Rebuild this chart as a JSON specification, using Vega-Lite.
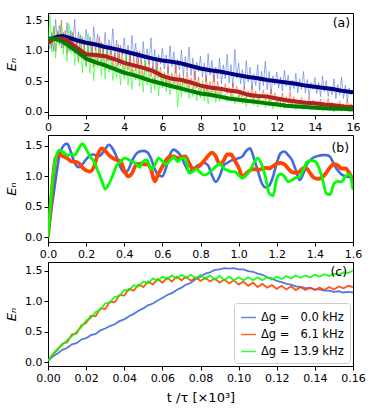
{
"$schema": "https://vega.github.io/schema/vega-lite/v6.json",
"padding": {"left": 5, "top": 12, "right": 5, "bottom": 5},
"config": {
 "font": "DejaVu Sans",
 "view": {"stroke": "black", "strokeWidth": 1},
 "axis": {"grid": false, "domainColor": "black", "tickColor": "black", "tickSize": 4, "labelFontSize": 11, "labelColor": "black", "labelPadding": 2, "labelOverlap": false, "labelFlush": false, "labelBound": false, "titleFontWeight": "normal", "titleColor": "black", "titleFontSize": 13}
},
"datasets": {
 "a_thin": [
  {"t":0.0,"b":1.17,"r":1.1,"g":1.15},{"t":0.1,"b":1.03,"r":1.21,"g":1.58},{"t":0.2,"b":1.3,"r":1.05,"g":0.98},{"t":0.3,"b":0.99,"r":1.4,"g":1.4},
  {"t":0.4,"b":1.51,"r":0.99,"g":0.88},{"t":0.5,"b":1.14,"r":1.32,"g":1.29},{"t":0.6,"b":1.41,"r":1.1,"g":1.09},{"t":0.7,"b":1.04,"r":1.5,"g":1.44},
  {"t":0.8,"b":1.3,"r":1.04,"g":0.94},{"t":0.9,"b":1.1,"r":1.33,"g":1.26},{"t":1.0,"b":1.46,"r":0.95,"g":0.82},{"t":1.1,"b":0.99,"r":1.23,"g":1.44},
  {"t":1.2,"b":1.33,"r":1.07,"g":0.95},{"t":1.3,"b":1.08,"r":1.3,"g":1.26},{"t":1.4,"b":1.51,"r":0.94,"g":0.76},{"t":1.5,"b":0.99,"r":1.15,"g":1.07},
  {"t":1.6,"b":1.31,"r":0.83,"g":0.8},{"t":1.7,"b":0.91,"r":1.26,"g":1.25},{"t":1.8,"b":1.23,"r":0.9,"g":0.64},{"t":1.9,"b":1.07,"r":1.12,"g":1.06},
  {"t":2.0,"b":1.35,"r":0.76,"g":0.73},{"t":2.1,"b":0.97,"r":1.0,"g":1.28},{"t":2.2,"b":1.23,"r":0.82,"g":0.63},{"t":2.3,"b":0.89,"r":1.16,"g":1.03},
  {"t":2.4,"b":1.39,"r":0.73,"g":0.51},{"t":2.5,"b":1.01,"r":1.05,"g":0.92},{"t":2.6,"b":1.27,"r":0.83,"g":0.72},{"t":2.7,"b":0.88,"r":1.23,"g":1.07},
  {"t":2.8,"b":1.14,"r":0.76,"g":0.58},{"t":2.9,"b":0.94,"r":1.06,"g":0.91},{"t":3.0,"b":1.3,"r":0.69,"g":0.54},{"t":3.1,"b":0.84,"r":0.98,"g":1.04},
  {"t":3.2,"b":1.18,"r":0.83,"g":0.65},{"t":3.3,"b":0.93,"r":1.08,"g":0.9},{"t":3.4,"b":1.36,"r":0.73,"g":0.51},{"t":3.5,"b":0.85,"r":0.96,"g":0.77},
  {"t":3.6,"b":1.17,"r":0.65,"g":0.56},{"t":3.7,"b":0.77,"r":1.1,"g":0.92},{"t":3.8,"b":1.09,"r":0.75,"g":0.44},{"t":3.9,"b":0.93,"r":0.97,"g":0.78},
  {"t":4.0,"b":1.21,"r":0.66,"g":0.53},{"t":4.1,"b":0.83,"r":0.84,"g":0.96},{"t":4.2,"b":1.09,"r":0.69,"g":0.44},{"t":4.3,"b":0.75,"r":0.95,"g":0.77},
  {"t":4.4,"b":1.25,"r":0.61,"g":0.37},{"t":4.5,"b":0.86,"r":0.86,"g":0.69},{"t":4.6,"b":1.12,"r":0.67,"g":0.52},{"t":4.7,"b":0.73,"r":0.99,"g":0.8},
  {"t":4.8,"b":0.99,"r":0.61,"g":0.42},{"t":4.9,"b":0.79,"r":0.84,"g":0.67},{"t":5.0,"b":1.15,"r":0.54,"g":0.33},{"t":5.1,"b":0.68,"r":0.77,"g":0.83},
  {"t":5.2,"b":1.03,"r":0.65,"g":0.44},{"t":5.3,"b":0.78,"r":0.85,"g":0.7},{"t":5.4,"b":1.21,"r":0.57,"g":0.31},{"t":5.5,"b":0.69,"r":0.75,"g":0.57},
  {"t":5.6,"b":1.02,"r":0.5,"g":0.36},{"t":5.7,"b":0.62,"r":0.85,"g":0.72},{"t":5.8,"b":0.94,"r":0.56,"g":0.26},{"t":5.9,"b":0.78,"r":0.73,"g":0.6},
  {"t":6.0,"b":1.04,"r":0.45,"g":0.39},{"t":6.1,"b":0.7,"r":0.63,"g":0.66},{"t":6.2,"b":0.93,"r":0.47,"g":0.33},{"t":6.3,"b":0.63,"r":0.74,"g":0.54},
  {"t":6.4,"b":1.08,"r":0.39,"g":0.28},{"t":6.5,"b":0.74,"r":0.64,"g":0.48},{"t":6.6,"b":0.98,"r":0.46,"g":0.37},{"t":6.7,"b":0.63,"r":0.77,"g":0.54},
  {"t":6.8,"b":0.86,"r":0.4,"g":0.08},{"t":6.9,"b":0.68,"r":0.63,"g":0.46},{"t":7.0,"b":1.01,"r":0.34,"g":0.24},{"t":7.1,"b":0.58,"r":0.57,"g":0.55},
  {"t":7.2,"b":0.9,"r":0.45,"g":0.31},{"t":7.3,"b":0.67,"r":0.66,"g":0.47},{"t":7.4,"b":1.06,"r":0.38,"g":0.22},{"t":7.5,"b":0.59,"r":0.56,"g":0.38},
  {"t":7.6,"b":0.88,"r":0.31,"g":0.25},{"t":7.7,"b":0.52,"r":0.67,"g":0.48},{"t":7.8,"b":0.81,"r":0.39,"g":0.18},{"t":7.9,"b":0.66,"r":0.57,"g":0.39},
  {"t":8.0,"b":0.91,"r":0.29,"g":0.23},{"t":8.1,"b":0.57,"r":0.47,"g":0.51},{"t":8.2,"b":0.8,"r":0.32,"g":0.18},{"t":8.3,"b":0.49,"r":0.59,"g":0.39},
  {"t":8.4,"b":0.95,"r":0.25,"g":0.13},{"t":8.5,"b":0.6,"r":0.5,"g":0.34},{"t":8.6,"b":0.84,"r":0.32,"g":0.23},{"t":8.7,"b":0.49,"r":0.63,"g":0.41},
  {"t":8.8,"b":0.73,"r":0.26,"g":0.16},{"t":8.9,"b":0.54,"r":0.5,"g":0.33},{"t":9.0,"b":0.88,"r":0.27,"g":0.17},{"t":9.1,"b":0.46,"r":0.42,"g":0.35},
  {"t":9.2,"b":0.77,"r":0.34,"g":0.21},{"t":9.3,"b":0.54,"r":0.46,"g":0.29},{"t":9.4,"b":0.94,"r":0.29,"g":0.16},{"t":9.5,"b":0.47,"r":0.4,"g":0.24},
  {"t":9.6,"b":0.77,"r":0.25,"g":0.17},{"t":9.7,"b":0.4,"r":0.47,"g":0.3},{"t":9.8,"b":1.02,"r":0.3,"g":0.13},{"t":9.9,"b":0.55,"r":0.42,"g":0.25},
  {"t":10.0,"b":0.8,"r":0.24,"g":0.16},{"t":10.1,"b":0.46,"r":0.35,"g":0.32},{"t":10.2,"b":0.69,"r":0.25,"g":0.13},{"t":10.3,"b":0.38,"r":0.41,"g":0.24},
  {"t":10.4,"b":0.84,"r":0.19,"g":0.09},{"t":10.5,"b":0.49,"r":0.34,"g":0.21},{"t":10.6,"b":0.73,"r":0.23,"g":0.15},{"t":10.7,"b":0.38,"r":0.42,"g":0.25},
  {"t":10.8,"b":0.62,"r":0.19,"g":0.11},{"t":10.9,"b":0.43,"r":0.34,"g":0.2},{"t":11.0,"b":0.77,"r":0.15,"g":0.08},{"t":11.1,"b":0.35,"r":0.3,"g":0.26},
  {"t":11.2,"b":0.66,"r":0.23,"g":0.12},{"t":11.3,"b":0.43,"r":0.36,"g":0.2},{"t":11.4,"b":0.83,"r":0.18,"g":0.07},{"t":11.5,"b":0.36,"r":0.3,"g":0.16},
  {"t":11.6,"b":0.66,"r":0.15,"g":0.09},{"t":11.7,"b":0.29,"r":0.37,"g":0.22},{"t":11.8,"b":0.59,"r":0.19,"g":0.05},{"t":11.9,"b":0.44,"r":0.31,"g":0.17},
  {"t":12.0,"b":0.65,"r":0.13,"g":0.1},{"t":12.1,"b":0.39,"r":0.25,"g":0.19},{"t":12.2,"b":0.57,"r":0.15,"g":0.07},{"t":12.3,"b":0.34,"r":0.31,"g":0.15},
  {"t":12.4,"b":0.68,"r":0.1,"g":0.05},{"t":12.5,"b":0.42,"r":0.25,"g":0.12},{"t":12.6,"b":0.6,"r":0.14,"g":0.09},{"t":12.7,"b":0.34,"r":0.33,"g":0.15},
  {"t":12.8,"b":0.52,"r":0.1,"g":0.06},{"t":12.9,"b":0.38,"r":0.25,"g":0.12},{"t":13.0,"b":0.63,"r":0.09,"g":0.04},{"t":13.1,"b":0.31,"r":0.19,"g":0.16},
  {"t":13.2,"b":0.54,"r":0.12,"g":0.07},{"t":13.3,"b":0.37,"r":0.24,"g":0.13},{"t":13.4,"b":0.66,"r":0.09,"g":0.04},{"t":13.5,"b":0.31,"r":0.19,"g":0.1},
  {"t":13.6,"b":0.53,"r":0.12,"g":0.05},{"t":13.7,"b":0.25,"r":0.25,"g":0.13},{"t":13.8,"b":0.48,"r":0.09,"g":0.03},{"t":13.9,"b":0.37,"r":0.19,"g":0.1},
  {"t":14.0,"b":0.56,"r":0.06,"g":0.05},{"t":14.1,"b":0.3,"r":0.16,"g":0.15},{"t":14.2,"b":0.48,"r":0.09,"g":0.03},{"t":14.3,"b":0.25,"r":0.21,"g":0.1},
  {"t":14.4,"b":0.59,"r":0.06,"g":0.01},{"t":14.5,"b":0.33,"r":0.16,"g":0.08},{"t":14.6,"b":0.51,"r":0.09,"g":0.05},{"t":14.7,"b":0.25,"r":0.22,"g":0.11},
  {"t":14.8,"b":0.42,"r":0.06,"g":0.02},{"t":14.9,"b":0.28,"r":0.16,"g":0.08},{"t":15.0,"b":0.54,"r":0.03,"g":0.0},{"t":15.1,"b":0.22,"r":0.13,"g":0.12},
  {"t":15.2,"b":0.45,"r":0.06,"g":0.03},{"t":15.3,"b":0.28,"r":0.18,"g":0.09},{"t":15.4,"b":0.57,"r":0.03,"g":0.01},{"t":15.5,"b":0.22,"r":0.13,"g":0.07},
  {"t":15.6,"b":0.44,"r":0.06,"g":0.02},{"t":15.7,"b":0.17,"r":0.19,"g":0.1},{"t":15.8,"b":0.39,"r":0.03,"g":0.0},{"t":15.9,"b":0.28,"r":0.13,"g":0.07},
  {"t":16.0,"b":0.32,"r":0.08,"g":0.04}
 ],
 "a_thick": [
  {"t":0,"b":1.17,"r":1.13,"g":1.2},{"t":0.25,"b":1.2,"r":1.18,"g":1.2},{"t":0.5,"b":1.23,"r":1.2,"g":1.18},{"t":0.75,"b":1.24,"r":1.2,"g":1.15},
  {"t":1,"b":1.22,"r":1.17,"g":1.1},{"t":1.5,"b":1.17,"r":1.05,"g":0.99},{"t":2,"b":1.13,"r":0.94,"g":0.87},{"t":2.5,"b":1.1,"r":0.93,"g":0.81},
  {"t":3,"b":1.06,"r":0.91,"g":0.76},{"t":3.5,"b":1.03,"r":0.86,"g":0.7},{"t":4,"b":0.99,"r":0.8,"g":0.64},{"t":4.5,"b":0.95,"r":0.76,"g":0.6},
  {"t":5,"b":0.91,"r":0.72,"g":0.55},{"t":5.5,"b":0.87,"r":0.67,"g":0.5},{"t":6,"b":0.84,"r":0.59,"g":0.46},{"t":6.5,"b":0.82,"r":0.54,"g":0.42},
  {"t":7,"b":0.79,"r":0.52,"g":0.38},{"t":7.5,"b":0.75,"r":0.48,"g":0.34},{"t":8,"b":0.71,"r":0.43,"g":0.3},{"t":8.5,"b":0.68,"r":0.4,"g":0.28},
  {"t":9,"b":0.66,"r":0.38,"g":0.25},{"t":9.5,"b":0.63,"r":0.35,"g":0.22},{"t":10,"b":0.6,"r":0.33,"g":0.2},{"t":10.5,"b":0.57,"r":0.28,"g":0.18},
  {"t":11,"b":0.55,"r":0.26,"g":0.16},{"t":11.5,"b":0.52,"r":0.25,"g":0.14},{"t":12,"b":0.5,"r":0.22,"g":0.12},{"t":12.5,"b":0.48,"r":0.19,"g":0.1},
  {"t":13,"b":0.46,"r":0.17,"g":0.09},{"t":13.5,"b":0.43,"r":0.15,"g":0.08},{"t":14,"b":0.41,"r":0.14,"g":0.07},{"t":14.5,"b":0.39,"r":0.12,"g":0.06},
  {"t":15,"b":0.37,"r":0.11,"g":0.05},{"t":15.5,"b":0.34,"r":0.09,"g":0.05},{"t":16,"b":0.32,"r":0.08,"g":0.04}
 ],
 "b": [
  {"t":0.00,"b":0.0,"r":0.0,"g":0.0},{"t":0.02,"b":0.5,"r":0.75,"g":0.8},{"t":0.04,"b":0.95,"r":1.3,"g":1.3},{"t":0.06,"b":1.35,"r":1.36,"g":1.43},
  {"t":0.08,"b":1.5,"r":1.33,"g":1.4},{"t":0.10,"b":1.54,"r":1.3,"g":1.35},{"t":0.12,"b":1.4,"r":1.25,"g":1.36},{"t":0.14,"b":1.22,"r":1.24,"g":1.35},
  {"t":0.16,"b":1.15,"r":1.22,"g":1.45},{"t":0.18,"b":1.2,"r":1.15,"g":1.54},{"t":0.20,"b":1.28,"r":1.1,"g":1.45},{"t":0.22,"b":1.34,"r":1.08,"g":1.33},
  {"t":0.24,"b":1.36,"r":1.15,"g":1.25},{"t":0.26,"b":1.33,"r":1.35,"g":1.1},{"t":0.28,"b":1.36,"r":1.46,"g":0.95},{"t":0.30,"b":1.45,"r":1.42,"g":0.79},
  {"t":0.32,"b":1.52,"r":1.35,"g":0.88},{"t":0.34,"b":1.45,"r":1.3,"g":1.02},{"t":0.36,"b":1.32,"r":1.27,"g":1.18},{"t":0.38,"b":1.15,"r":1.25,"g":1.24},
  {"t":0.40,"b":1.06,"r":1.1,"g":1.3},{"t":0.42,"b":1.1,"r":1.0,"g":1.28},{"t":0.44,"b":1.25,"r":1.05,"g":1.24},{"t":0.46,"b":1.36,"r":1.18,"g":1.22},
  {"t":0.48,"b":1.41,"r":1.21,"g":1.15},{"t":0.50,"b":1.42,"r":1.2,"g":1.25},{"t":0.52,"b":1.4,"r":1.2,"g":1.27},{"t":0.54,"b":1.3,"r":1.12,"g":1.12},
  {"t":0.56,"b":1.12,"r":0.92,"g":1.18},{"t":0.58,"b":1.02,"r":1.05,"g":1.3},{"t":0.60,"b":1.0,"r":1.16,"g":1.25},{"t":0.62,"b":1.15,"r":1.27,"g":1.2},
  {"t":0.64,"b":1.36,"r":1.33,"g":1.26},{"t":0.66,"b":1.44,"r":1.33,"g":1.32},{"t":0.68,"b":1.4,"r":1.3,"g":1.24},{"t":0.70,"b":1.32,"r":1.32,"g":1.3},
  {"t":0.72,"b":1.18,"r":1.33,"g":1.3},{"t":0.74,"b":1.08,"r":1.22,"g":1.05},{"t":0.76,"b":1.12,"r":1.12,"g":1.08},{"t":0.78,"b":1.17,"r":1.14,"g":1.12},
  {"t":0.80,"b":1.2,"r":1.19,"g":1.06},{"t":0.82,"b":1.22,"r":1.26,"g":1.02},{"t":0.84,"b":1.18,"r":1.34,"g":1.05},{"t":0.86,"b":1.02,"r":1.39,"g":1.1},
  {"t":0.88,"b":0.91,"r":1.33,"g":1.16},{"t":0.90,"b":1.0,"r":1.2,"g":1.21},{"t":0.92,"b":1.17,"r":1.25,"g":1.14},{"t":0.94,"b":1.22,"r":1.36,"g":1.1},
  {"t":0.96,"b":1.26,"r":1.36,"g":1.08},{"t":0.98,"b":1.28,"r":1.26,"g":1.08},{"t":1.00,"b":1.3,"r":1.15,"g":1.02},{"t":1.02,"b":1.33,"r":0.99,"g":0.97},
  {"t":1.04,"b":1.42,"r":1.05,"g":1.02},{"t":1.06,"b":1.46,"r":1.1,"g":1.1},{"t":1.08,"b":1.3,"r":1.12,"g":1.22},{"t":1.10,"b":1.1,"r":1.11,"g":1.3},
  {"t":1.12,"b":0.9,"r":1.12,"g":1.2},{"t":1.14,"b":0.82,"r":1.14,"g":1.0},{"t":1.16,"b":0.85,"r":1.13,"g":0.72},{"t":1.18,"b":0.99,"r":1.17,"g":0.68},
  {"t":1.20,"b":1.22,"r":1.21,"g":0.96},{"t":1.22,"b":1.38,"r":1.22,"g":1.04},{"t":1.24,"b":1.41,"r":1.2,"g":1.0},{"t":1.26,"b":1.35,"r":1.13,"g":0.91},
  {"t":1.28,"b":1.27,"r":1.07,"g":0.94},{"t":1.30,"b":1.1,"r":1.06,"g":0.98},{"t":1.32,"b":0.94,"r":1.08,"g":0.99},{"t":1.34,"b":1.05,"r":1.14,"g":1.12},
  {"t":1.36,"b":1.21,"r":1.12,"g":1.24},{"t":1.38,"b":1.28,"r":1.03,"g":1.26},{"t":1.40,"b":1.32,"r":0.97,"g":1.25},{"t":1.42,"b":1.34,"r":0.96,"g":1.15},
  {"t":1.44,"b":1.35,"r":0.99,"g":0.95},{"t":1.46,"b":1.35,"r":1.06,"g":0.72},{"t":1.48,"b":1.32,"r":1.15,"g":0.7},{"t":1.50,"b":1.2,"r":1.2,"g":0.88},
  {"t":1.52,"b":1.1,"r":1.18,"g":0.92},{"t":1.54,"b":1.03,"r":1.13,"g":0.91},{"t":1.56,"b":1.0,"r":1.13,"g":1.0},{"t":1.58,"b":0.99,"r":1.06,"g":1.04},
  {"t":1.60,"b":0.96,"r":0.94,"g":0.78}
 ],
 "c": [
  {"t":0.0,"b":0.02,"r":0.02,"g":0.02},{"t":0.0025,"b":0.09,"r":0.12,"g":0.13},{"t":0.005,"b":0.14,"r":0.2,"g":0.22},{"t":0.0075,"b":0.2,"r":0.3,"g":0.28},
  {"t":0.01,"b":0.23,"r":0.32,"g":0.36},{"t":0.0125,"b":0.29,"r":0.45,"g":0.42},{"t":0.015,"b":0.31,"r":0.47,"g":0.5},{"t":0.0175,"b":0.37,"r":0.6,"g":0.57},
  {"t":0.02,"b":0.39,"r":0.64,"g":0.68},{"t":0.0225,"b":0.44,"r":0.76,"g":0.72},{"t":0.025,"b":0.46,"r":0.75,"g":0.82},{"t":0.0275,"b":0.52,"r":0.88,"g":0.86},
  {"t":0.03,"b":0.55,"r":0.87,"g":0.96},{"t":0.0325,"b":0.59,"r":0.99,"g":0.98},{"t":0.035,"b":0.62,"r":0.98,"g":1.07},{"t":0.0375,"b":0.67,"r":1.1,"g":1.08},
  {"t":0.04,"b":0.7,"r":1.09,"g":1.18},{"t":0.0425,"b":0.75,"r":1.2,"g":1.17},{"t":0.045,"b":0.79,"r":1.17,"g":1.26},{"t":0.0475,"b":0.84,"r":1.27,"g":1.24},
  {"t":0.05,"b":0.88,"r":1.23,"g":1.32},{"t":0.0525,"b":0.93,"r":1.32,"g":1.29},{"t":0.055,"b":0.96,"r":1.27,"g":1.37},{"t":0.0575,"b":1.01,"r":1.36,"g":1.33},
  {"t":0.06,"b":1.05,"r":1.3,"g":1.4},{"t":0.0625,"b":1.1,"r":1.38,"g":1.36},{"t":0.065,"b":1.13,"r":1.32,"g":1.42},{"t":0.0675,"b":1.18,"r":1.4,"g":1.37},
  {"t":0.07,"b":1.22,"r":1.34,"g":1.43},{"t":0.0725,"b":1.27,"r":1.4,"g":1.38},{"t":0.075,"b":1.3,"r":1.33,"g":1.43},{"t":0.0775,"b":1.36,"r":1.39,"g":1.37},
  {"t":0.08,"b":1.4,"r":1.33,"g":1.43},{"t":0.0825,"b":1.45,"r":1.38,"g":1.36},{"t":0.085,"b":1.47,"r":1.32,"g":1.42},{"t":0.0875,"b":1.51,"r":1.37,"g":1.35},
  {"t":0.09,"b":1.52,"r":1.3,"g":1.41},{"t":0.0925,"b":1.54,"r":1.35,"g":1.34},{"t":0.095,"b":1.53,"r":1.29,"g":1.4},{"t":0.0975,"b":1.54,"r":1.34,"g":1.34},
  {"t":0.1,"b":1.52,"r":1.27,"g":1.39},{"t":0.1025,"b":1.52,"r":1.32,"g":1.34},{"t":0.105,"b":1.49,"r":1.25,"g":1.39},{"t":0.1075,"b":1.48,"r":1.3,"g":1.34},
  {"t":0.11,"b":1.45,"r":1.23,"g":1.39},{"t":0.1125,"b":1.43,"r":1.28,"g":1.34},{"t":0.115,"b":1.39,"r":1.22,"g":1.39},{"t":0.1175,"b":1.37,"r":1.26,"g":1.35},
  {"t":0.12,"b":1.33,"r":1.2,"g":1.4},{"t":0.1225,"b":1.31,"r":1.25,"g":1.36},{"t":0.125,"b":1.28,"r":1.19,"g":1.41},{"t":0.1275,"b":1.27,"r":1.24,"g":1.37},
  {"t":0.13,"b":1.24,"r":1.18,"g":1.42},{"t":0.1325,"b":1.23,"r":1.23,"g":1.38},{"t":0.135,"b":1.21,"r":1.18,"g":1.42},{"t":0.1375,"b":1.21,"r":1.22,"g":1.39},
  {"t":0.14,"b":1.19,"r":1.18,"g":1.43},{"t":0.1425,"b":1.19,"r":1.22,"g":1.4},{"t":0.145,"b":1.17,"r":1.18,"g":1.44},{"t":0.1475,"b":1.17,"r":1.23,"g":1.41},
  {"t":0.15,"b":1.15,"r":1.19,"g":1.45},{"t":0.1525,"b":1.16,"r":1.24,"g":1.43},{"t":0.155,"b":1.14,"r":1.21,"g":1.47},{"t":0.1575,"b":1.15,"r":1.25,"g":1.46},
  {"t":0.16,"b":1.14,"r":1.23,"g":1.5}
 ]
},
"vconcat": [
 {
  "width": 305, "height": 102,
  "layer": [
   {"data": {"name": "a_thin"}, "transform": [{"fold": ["b","r","g"], "as": ["s","e"]}],
    "mark": {"type": "line", "strokeWidth": 0.9, "opacity": 0.6, "clip": true},
    "encoding": {
     "x": {"field": "t", "type": "quantitative", "scale": {"domain": [0,16], "nice": false}, "axis": {"values": [0,2,4,6,8,10,12,14,16], "tickCount": 9, "labelOverlap": false, "format": "d", "title": null}},
     "y": {"field": "e", "type": "quantitative", "scale": {"domain": [-0.05,1.615], "nice": false, "zero": false}, "axis": {"values": [0,0.5,1,1.5], "tickCount": 4, "labelOverlap": false, "format": ".1f", "title": "Eₙ", "titleFontStyle": "italic", "titlePadding": 6}},
     "color": {"field": "s", "type": "nominal", "scale": {"domain": ["b","r","g"], "range": ["#4169e1","#ff4500","#00ff00"]}, "legend": null}
    }},
   {"data": {"name": "a_thick"}, "transform": [{"fold": ["b","r","g"], "as": ["s","e"]}],
    "mark": {"type": "line", "strokeWidth": 4, "clip": true},
    "encoding": {
     "x": {"field": "t", "type": "quantitative"},
     "y": {"field": "e", "type": "quantitative"},
     "color": {"field": "s", "type": "nominal", "scale": {"domain": ["b","r","g"], "range": ["#000080","#b22222","#008000"]}, "legend": null}
    }},
   {"data": {"values": [{"t": 15.85, "e": 1.45, "l": "(a)"}]},
    "mark": {"type": "text", "align": "right", "baseline": "middle", "fontSize": 12.5, "color": "black"},
    "encoding": {"x": {"field": "t", "type": "quantitative"}, "y": {"field": "e", "type": "quantitative"}, "text": {"field": "l"}}}
  ],
  "resolve": {"scale": {"color": "independent"}}
 },
 {
  "width": 305, "height": 107,
  "layer": [
   {"data": {"name": "b"}, "transform": [{"fold": ["b","r","g"], "as": ["s","e"]}],
    "mark": {"type": "line", "interpolate": "monotone", "clip": true},
    "encoding": {
     "x": {"field": "t", "type": "quantitative", "scale": {"domain": [0,1.6], "nice": false}, "axis": {"values": [0,0.2,0.4,0.6,0.8,1.0,1.2,1.4,1.6], "tickCount": 9, "labelOverlap": false, "format": ".1f", "title": null}},
     "y": {"field": "e", "type": "quantitative", "scale": {"domain": [-0.077,1.68], "nice": false, "zero": false}, "axis": {"values": [0,0.5,1,1.5], "tickCount": 4, "labelOverlap": false, "format": ".1f", "title": "Eₙ", "titleFontStyle": "italic", "titlePadding": 6}},
     "color": {"field": "s", "type": "nominal", "scale": {"domain": ["b","r","g"], "range": ["#4169e1","#ff4500","#00ff00"]}, "legend": null},
     "strokeWidth": {"field": "s", "type": "nominal", "scale": {"type": "ordinal", "domain": ["b","r","g"], "range": [2.6, 3.8, 2.8]}, "legend": null}
    }},
   {"data": {"values": [{"t": 1.58, "e": 1.46, "l": "(b)"}]},
    "mark": {"type": "text", "align": "right", "baseline": "middle", "fontSize": 12.5, "color": "black"},
    "encoding": {"x": {"field": "t", "type": "quantitative"}, "y": {"field": "e", "type": "quantitative"}, "text": {"field": "l"}}}
  ]
 },
 {
  "width": 305, "height": 104,
  "layer": [
   {"data": {"name": "c"}, "transform": [{"fold": ["b","r","g"], "as": ["s","e"]}],
    "mark": {"type": "line", "strokeWidth": 1.8, "opacity": 0.9, "clip": true},
    "encoding": {
     "x": {"field": "t", "type": "quantitative", "scale": {"domain": [0,0.16], "nice": false}, "axis": {"values": [0,0.02,0.04,0.06,0.08,0.1,0.12,0.14,0.16], "tickCount": 9, "labelOverlap": false, "format": ".2f", "title": "t /τ [×10³]", "titlePadding": 8}},
     "y": {"field": "e", "type": "quantitative", "scale": {"domain": [-0.065,1.64], "nice": false, "zero": false}, "axis": {"values": [0,0.5,1,1.5], "tickCount": 4, "labelOverlap": false, "format": ".1f", "title": "Eₙ", "titleFontStyle": "italic", "titlePadding": 6}},
     "color": {"field": "s", "type": "nominal", "scale": {"domain": ["b","r","g"], "range": ["#4169e1","#ff4500","#00ff00"]},
      "legend": {"orient": "bottom-right", "offset": 3, "title": null, "symbolType": "stroke", "symbolSize": 220, "symbolStrokeWidth": 1.5, "symbolOpacity": 0.8, "labelFontSize": 11.5, "labelColor": "black", "padding": 6, "rowPadding": 3, "strokeColor": "#cccccc", "fillColor": "white", "cornerRadius": 3,
       "labelExpr": "datum.label == 'b' ? 'Δg = \u20070.0 kHz' : datum.label == 'r' ? 'Δg = \u20076.1 kHz' : 'Δg = 13.9 kHz'"}}
    }},
   {"data": {"values": [{"t": 0.1569, "e": 1.48, "l": "(c)"}]},
    "mark": {"type": "text", "align": "right", "baseline": "middle", "fontSize": 12.5, "color": "black"},
    "encoding": {"x": {"field": "t", "type": "quantitative"}, "y": {"field": "e", "type": "quantitative"}, "text": {"field": "l"}}}
  ]
 }
],
"spacing": 20,
"bounds": "flush",
"resolve": {"scale": {"color": "independent", "x": "independent", "y": "independent"}, "legend": {"color": "independent"}}
}
